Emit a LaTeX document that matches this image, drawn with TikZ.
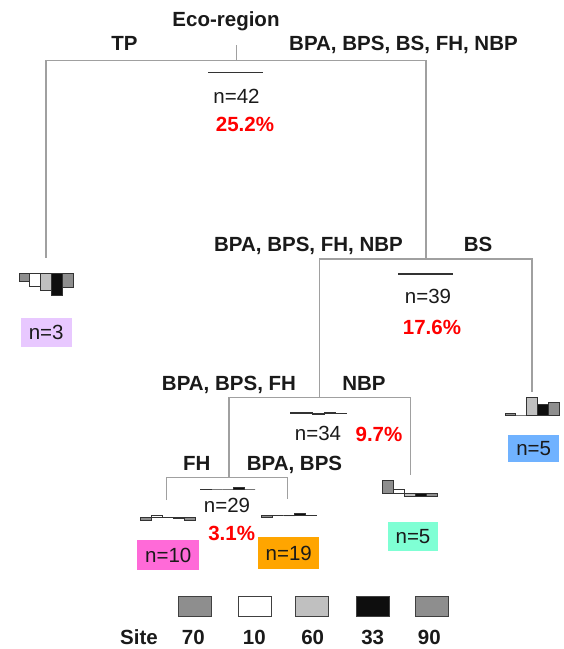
\documentclass[tikz,border=0pt]{standalone}
\usepackage{fontspec}
\setmainfont{Liberation Sans}
% bar colours, one per site
\definecolor{sc1}{HTML}{8E8E8E}
\definecolor{sc2}{HTML}{FFFFFF}
\definecolor{sc3}{HTML}{C0C0C0}
\definecolor{sc4}{HTML}{0E0E0E}
\definecolor{sc5}{HTML}{8E8E8E}
\definecolor{errred}{HTML}{FF0000}
\definecolor{inkgray}{HTML}{1A1A1A}
\definecolor{treegray}{HTML}{A0A0A0}
\definecolor{leafTP}{HTML}{E8C8FF}
\definecolor{leafBS}{HTML}{70B2FF}
\definecolor{leafFH}{HTML}{FF6AD8}
\definecolor{leafBP}{HTML}{FFA500}
\definecolor{leafNBP}{HTML}{7FFFD4}

% small bar chart: left x, baseline y, bar width, list of five heights (up = positive)
\newcommand{\sitebars}[4]{%
  \foreach \h [count=\i] in {#4} {
    \pgfmathsetmacro{\xa}{#1+(\i-1)*#3}
    \pgfmathsetmacro{\xb}{#1+\i*#3}
    \filldraw[bar, fill=sc\i] (\xa,#2) rectangle (\xb,#2-\h);
  }%
}

\begin{document}
\begin{tikzpicture}[x=1pt,y=-1pt,
  every node/.style={font=\fontsize{20.5}{24}\selectfont, text=inkgray, inner sep=0pt},
  split/.style={anchor=base, font=\fontsize{20.5}{24}\selectfont\bfseries},
  count/.style={anchor=base},
  err/.style={anchor=base, text=errred, font=\fontsize{20.5}{24}\selectfont\bfseries},
  tree/.style={draw=treegray, line width=1.1pt},
  bar/.style={draw=black!80, line width=0.8pt},
  leafbox/.style={rectangle, inner sep=0pt},
  keybox/.style={rectangle, draw=black!75, line width=0.8pt, minimum width=33pt, minimum height=20pt}]

\useasboundingbox (0,0) rectangle (564,649);

% split points and leaf ends
\coordinate (n1top) at (236.8,45);
\coordinate (n1) at (236.8,60.5);
\coordinate (n2) at (426,259);
\coordinate (n3) at (319.3,397.7);
\coordinate (n4) at (229,477.3);
\coordinate (tpEnd) at (46,257.5);
\coordinate (bsEnd) at (532,392);
\coordinate (nbpEnd) at (410.7,475);
\coordinate (fhEnd) at (166.7,500);
\coordinate (bpEnd) at (287.7,499.3);

% tree skeleton
\draw[tree] (n1top) -- (n1);
\draw[tree] (tpEnd) |- (n1) -| (n2);
\draw[tree] (n3) |- (n2) -| (bsEnd);
\draw[tree] (n4) |- (n3) -| (nbpEnd);
\draw[tree] (fhEnd) |- (n4) -| (bpEnd);

% root split
\node[split] (eco) at (226,26) {Eco-region};
\node[split] (lTP) at (124.5,50.7) {TP};
\node[split] (lRest) at (403.5,50.7) {BPA, BPS, BS, FH, NBP};
\sitebars{208.5}{72.7}{10.8}{0.6,0.6,0.6,0.6,0.6}
\node[count] (c42) at (236.5,103) {n=42};
\node[err] (e42) at (245,131.7) {25.2\%};

% second split
\node[split] (lNoBS) at (308.5,251.7) {BPA, BPS, FH, NBP};
\node[split] (lBS) at (478,251.7) {BS};
\sitebars{398.3}{274.3}{10.9}{0.6,0.6,0.6,0.6,0.6}
\node[count] (c39) at (428,303.3) {n=39};
\node[err] (e39) at (432,334) {17.6\%};

% third split
\node[split] (lNoNBP) at (229,390) {BPA, BPS, FH};
\node[split] (lNBP) at (364,390) {NBP};
\sitebars{290}{413.3}{11.3}{0.5,0.5,-0.6,0.7,-0.4}
\node[count] (c34) at (318,440) {n=34};
\node[err] (e34) at (379,441) {9.7\%};

% fourth split
\node[split] (lFH) at (196.7,470.7) {FH};
\node[split] (lBP) at (294.5,470) {BPA, BPS};
\sitebars{200.7}{489}{10.9}{-0.8,0,0,1.7,0}
\node[count] (c29) at (227,512.7) {n=29};
\node[err] (e29) at (231.7,540) {3.1\%};

% leaves: bar charts
\sitebars{19}{273.3}{10.86}{-8.4,-12.7,-16.7,-21.7,-14}
\sitebars{505}{415}{10.8}{1.5,0,17.7,10.5,13}
\sitebars{382.7}{493.3}{11}{12.6,4.3,-2.7,-3.3,-2.7}
\sitebars{140}{517.3}{11}{-3.3,1.6,-0.5,-0.7,-3.3}
\sitebars{261.7}{515.7}{11}{-1.3,0,0,2.4,0.7}

% leaves: sizes
\node[leafbox, fill=leafTP, minimum width=51pt, minimum height=29pt] (kTP) at (46.2,332.2) {n=3};
\node[leafbox, fill=leafBS, minimum width=50.7pt, minimum height=27.3pt] (kBS) at (533.7,448.7) {n=5};
\node[leafbox, fill=leafFH, minimum width=62pt, minimum height=30pt] (kFH) at (168.3,555) {n=10};
\node[leafbox, fill=leafBP, minimum width=61pt, minimum height=31.7pt] (kBP) at (288.8,553.2) {n=19};
\node[leafbox, fill=leafNBP, minimum width=49.4pt, minimum height=28.7pt] (kNBP) at (413,536.7) {n=5};

% key
\node[keybox, fill=sc1] (k1) at (195,606.7) {};
\node[keybox, fill=sc2] (k2) at (254.5,606.7) {};
\node[keybox, fill=sc3] (k3) at (311.7,606.7) {};
\node[keybox, fill=sc4] (k4) at (372.5,606.7) {};
\node[keybox, fill=sc5] (k5) at (431.7,606.7) {};
\node[split] (site) at (139,644.5) {Site};
\node[split] (s1) at (193.3,644.5) {70};
\node[split] (s2) at (254.3,644.5) {10};
\node[split] (s3) at (312.7,644.5) {60};
\node[split] (s4) at (372.7,644.5) {33};
\node[split] (s5) at (429.3,644.5) {90};
\end{tikzpicture}
\end{document}
